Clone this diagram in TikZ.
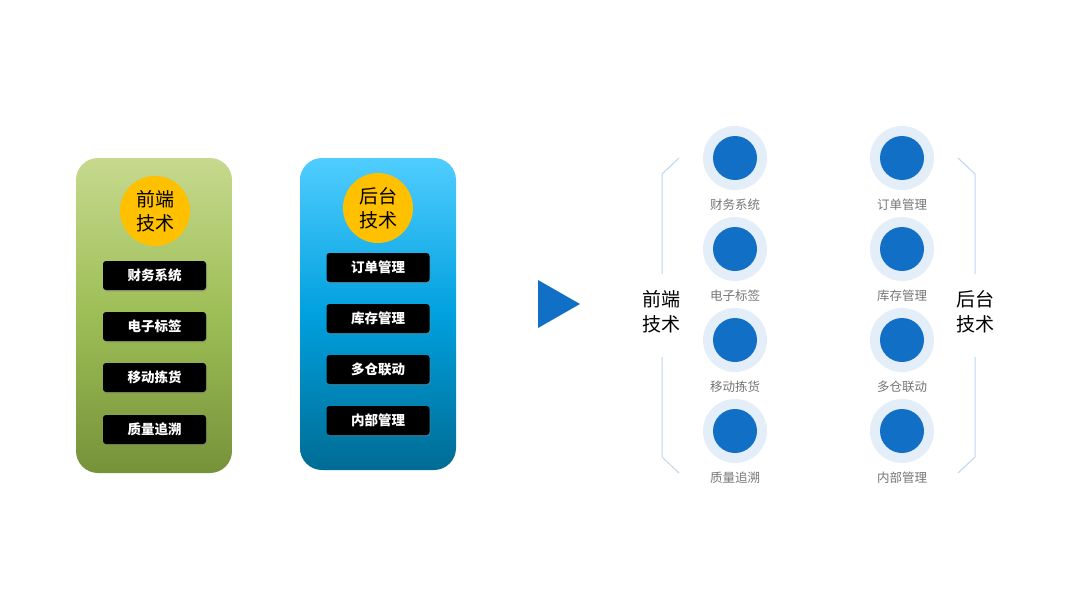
\documentclass[tikz,border=0pt]{standalone}
\usepackage{fontspec}
\setmainfont{Noto Sans CJK SC}
\usetikzlibrary{shadows}
\definecolor{gtop}{RGB}{198,217,142}
\definecolor{gmid}{RGB}{157,190,86}
\definecolor{gbot}{RGB}{118,146,58}
\definecolor{btop}{RGB}{80,205,255}
\definecolor{bmid}{RGB}{0,160,222}
\definecolor{bbot}{RGB}{0,108,148}
\definecolor{gold}{RGB}{255,192,0}
\definecolor{dblue}{RGB}{17,112,198}
\definecolor{lblue}{RGB}{227,238,249}
\definecolor{brk}{RGB}{189,215,238}
\definecolor{lab}{RGB}{118,118,118}
\begin{document}
\begin{tikzpicture}[x=1pt,y=-1pt,
  panel/.style={rounded corners=22pt},
  badge/.style={circle,fill=gold,minimum size=70pt,inner sep=0pt,align=center,font=\fontsize{19}{24}\selectfont,text=black},
  item/.style={rounded corners=3pt,fill=black,text=white,minimum width=103pt,minimum height=29pt,inner sep=0pt,font=\fontsize{13.5}{16}\selectfont\bfseries,drop shadow={shadow xshift=1pt,shadow yshift=-1.5pt,opacity=0.35}},
  ring/.style={circle,fill=lblue,minimum size=64pt,inner sep=0pt},
  dot/.style={circle,fill=dblue,minimum size=44pt,inner sep=0pt},
  lbl/.style={text=lab,font=\fontsize{12.5}{15}\selectfont,inner sep=0pt},
  side/.style={align=center,font=\fontsize{19}{25}\selectfont,text=black,inner sep=0pt},
  brline/.style={draw=brk,line width=1pt}
]
\useasboundingbox (0,0) rectangle (1080,608);
\fill[white] (0,0) rectangle (1080,608);
% left panel
\shade[panel,top color=gtop,bottom color=gbot,middle color=gmid] (76,158) rectangle (232,473);
\node[badge] (fb) at (155,211) {前端\\技术};
\node[item] (f1) at (154.5,275.5) {财务系统};
\node[item] (f2) at (154.5,326.5) {电子标签};
\node[item] (f3) at (154.5,377.5) {移动拣货};
\node[item] (f4) at (154.5,429.5) {质量追溯};
% right panel
\shade[panel,top color=btop,bottom color=bbot,middle color=bmid] (300,158) rectangle (456,470);
\node[badge] (bb) at (378,208) {后台\\技术};
\node[item] (b1) at (378,267.5) {订单管理};
\node[item] (b2) at (378,318.5) {库存管理};
\node[item] (b3) at (378,369.5) {多仓联动};
\node[item] (b4) at (378,420.5) {内部管理};
% arrow triangle
\fill[dblue] (538,280) -- (580,304) -- (538,328) -- cycle;
% circles
\foreach \n/\x/\y/\t in {l1/735/158/财务系统,l2/735/249/电子标签,l3/735/340/移动拣货,l4/735/431/质量追溯,r1/902/158/订单管理,r2/902/249/库存管理,r3/902/340/多仓联动,r4/902/431/内部管理}{
  \node[ring] (\n r) at (\x,\y) {};
  \node[dot] (\n d) at (\x,\y) {};
  \node[lbl] (\n t) at (\x,{\y+47}) {\t};
}
% brackets
\coordinate (a1) at (679,158); \coordinate (a2) at (662,174); \coordinate (a3) at (662,274);
\coordinate (a4) at (662,357); \coordinate (a5) at (662,457); \coordinate (a6) at (679,473);
\draw[brline] (a1) -- (a2) -- (a3);
\draw[brline] (a4) -- (a5) -- (a6);
\coordinate (c1) at (958,158); \coordinate (c2) at (975,174); \coordinate (c3) at (975,274);
\coordinate (c4) at (975,357); \coordinate (c5) at (975,457); \coordinate (c6) at (958,473);
\draw[brline] (c1) -- (c2) -- (c3);
\draw[brline] (c4) -- (c5) -- (c6);
\node[side] (ls) at (661,312) {前端\\技术};
\node[side] (rs) at (975,312) {后台\\技术};
\end{tikzpicture}
\end{document}
